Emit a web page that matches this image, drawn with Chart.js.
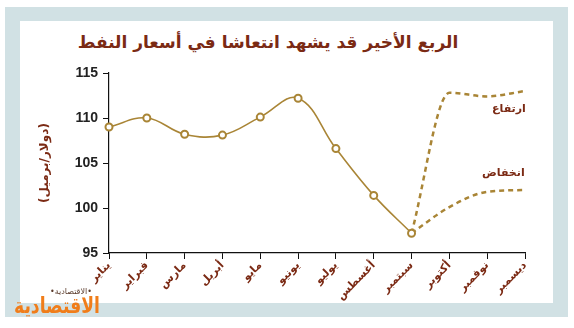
<!DOCTYPE html>
<html lang="ar">
<head>
<meta charset="utf-8">
<script src="https://cdn.jsdelivr.net/npm/chart.js@4"></script>
<style>
  body { margin: 0; background: #fff; width: 574px; height: 328px; position: relative; overflow: hidden; }
  .frame { position: absolute; left: 5px; top: 7px; width: 563px; height: 310px; background: #d1e1e4; }
  .panel { position: absolute; left: 20px; top: 21px; width: 533px; height: 282px; background: #fff; }
  .title { position: absolute; left: 18px; top: 32px; width: 500px; text-align: center; direction: rtl;
           font: bold 17px "DejaVu Sans", sans-serif; color: #7b2a14; }
  .tag { position: absolute; direction: rtl; font: bold 11px "DejaVu Sans", sans-serif; color: #7b2a14; }
  .logo-small { position: absolute; left: 50px; top: 287px; font: 8px "DejaVu Sans", sans-serif; color: #5a3a2a; direction: rtl; }
  .logo { position: absolute; left: 14px; top: 293px; font: bold 22px "DejaVu Sans", sans-serif; color: #f07d1a; direction: rtl;
          line-height: 26px; transform: scaleX(0.78); transform-origin: left top; }
  #wrap { position: absolute; left: 20px; top: 21px; width: 533px; height: 282px; }
</style>
</head>
<body>
<div class="frame"></div>
<div class="panel"></div>
<div class="title">الربع الأخير قد يشهد انتعاشا في أسعار النفط</div>
<div id="wrap"><canvas id="oilChart"></canvas></div>
<div class="tag" style="left:492px; top:102px;">ارتفاع</div>
<div class="tag" style="left:482px; top:166px;">انخفاض</div>
<div class="logo-small">•الاقتصادية•</div>
<div class="logo">الاقتصادية</div>
<script>
const months = ['يناير', 'فبراير', 'مارس', 'أبريل', 'مايو', 'يونيو', 'يوليو', 'أغسطس', 'سبتمبر', 'أكتوبر', 'نوفمبر', 'ديسمبر'];
const actualPrices = [109, 110, 108.2, 108.1, 110.1, 112.2, 106.6, 101.4, 97.2, null, null, null];
const highScenario = [null, null, null, null, null, null, null, null, 97.2, 112.8, 112.4, 113];
const lowScenario = [null, null, null, null, null, null, null, null, 97.2, 100.1, 101.8, 102];
const yTicks = [95, 100, 105, 110, 115];

const gold = '#a98536';
const darkRed = '#7b2a14';

const ctx = document.getElementById('oilChart').getContext('2d');
new Chart(ctx, {
    type: 'line',
    data: {
        labels: months,
        datasets: [
            {
                label: 'actual',
                data: actualPrices,
                borderColor: gold,
                borderWidth: 1.6,
                tension: 0.4,
                pointRadius: 3.5,
                pointBorderWidth: 2,
                pointBackgroundColor: '#fff',
                pointBorderColor: gold,
                order: 0
            },
            {
                label: 'high',
                data: highScenario,
                borderColor: gold,
                borderWidth: 2.5,
                borderDash: [5, 4],
                cubicInterpolationMode: 'monotone',
                pointRadius: 0,
                order: 1
            },
            {
                label: 'low',
                data: lowScenario,
                borderColor: gold,
                borderWidth: 2.5,
                borderDash: [5, 4],
                cubicInterpolationMode: 'monotone',
                pointRadius: 0,
                order: 1
            }
        ]
    },
    options: {
        responsive: true,
        maintainAspectRatio: false,
        animation: false,
        layout: { padding: { left: 0, right: 28, top: 52, bottom: 0 } },
        plugins: {
            legend: { display: false },
            tooltip: { enabled: false }
        },
        scales: {
            x: {
                offset: false,
                grid: { drawOnChartArea: false, color: '#111', tickLength: 6, tickColor: '#111' },
                border: { color: '#111', width: 1.2 },
                ticks: {
                    color: darkRed,
                    font: { family: 'DejaVu Sans', size: 11, weight: 'bold' },
                    minRotation: 45,
                    maxRotation: 45,
                    padding: 0
                },
                afterFit: (scale) => { scale.height = 50; }
            },
            y: {
                min: 95,
                max: 115,
                afterBuildTicks: (scale) => { scale.ticks = yTicks.map(v => ({ value: v })); },
                grid: { drawOnChartArea: false, color: '#111', tickLength: 6, tickColor: '#111' },
                border: { color: '#111', width: 1.2 },
                ticks: {
                    color: '#222',
                    font: { family: 'Liberation Sans', size: 14, weight: 'bold' },
                    padding: 5
                },
                title: {
                    display: true,
                    text: '(دولار/برميل)',
                    color: darkRed,
                    font: { family: 'DejaVu Sans', size: 12, weight: 'bold' },
                    padding: { top: 18 }
                },
                afterFit: (scale) => { scale.width = 89; }
            }
        }
    }
});
</script>
</body>
</html>
